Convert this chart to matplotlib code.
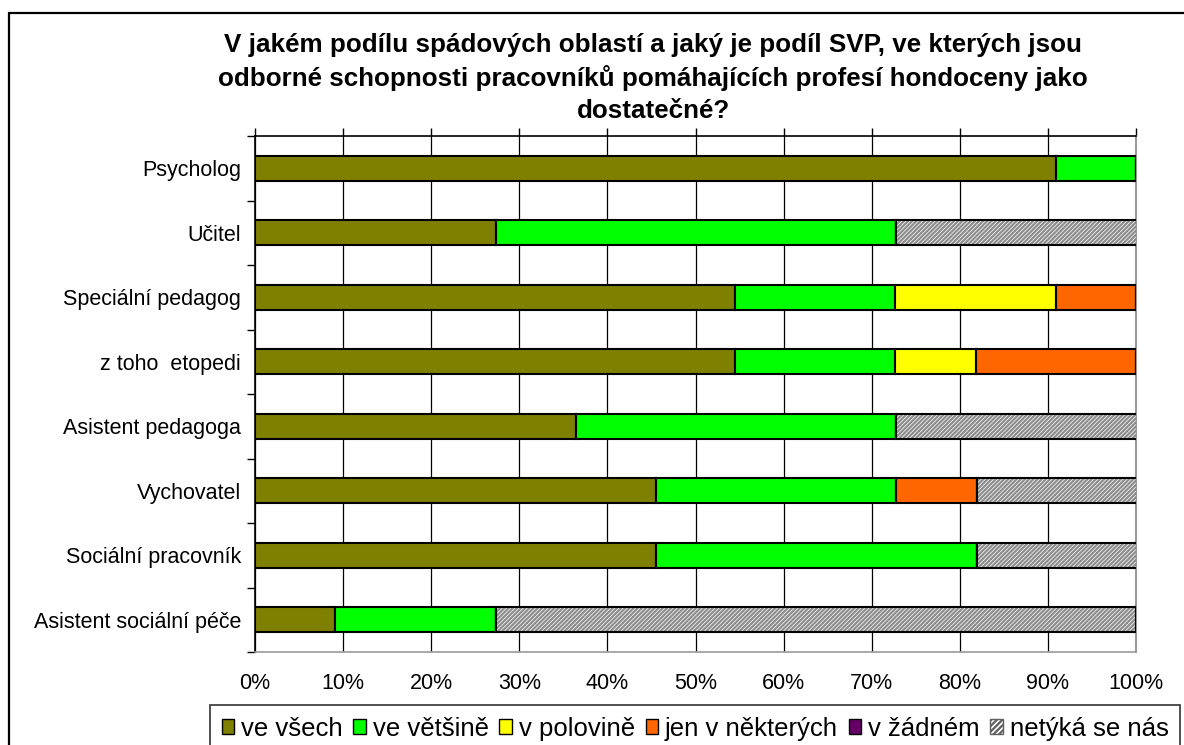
import matplotlib
matplotlib.use("Agg")
import matplotlib.pyplot as plt
import matplotlib.patches as mpatches
import numpy as np

plt.rcParams['font.family'] = ['Liberation Sans', 'DejaVu Sans']
plt.rcParams['hatch.linewidth'] = 1.6

categories = ["Psycholog", "Učitel", "Speciální pedagog", "z toho  etopedi",
              "Asistent pedagoga", "Vychovatel", "Sociální pracovník",
              "Asistent sociální péče"]
series_names = ["ve všech", "ve většině", "v polovině", "jen v některých",
                "v žádném", "netýká se nás"]
ve_vsech        = [90.9, 27.3, 54.5, 54.5, 36.4, 45.5, 45.5, 9.1]
ve_vetsine      = [9.1, 45.5, 18.2, 18.2, 36.4, 27.3, 36.4, 18.2]
v_polovine      = [0, 0, 18.2, 9.1, 0, 0, 0, 0]
jen_v_nekterych = [0, 0, 9.1, 18.2, 0, 9.1, 0, 0]
v_zadnem        = [0, 0, 0, 0, 0, 0, 0, 0]
netyka_se_nas   = [0, 27.3, 0, 0, 27.3, 18.2, 18.2, 72.7]
x_ticklabels = ["0%", "10%", "20%", "30%", "40%", "50%", "60%", "70%", "80%", "90%", "100%"]
title = ("V jakém podílu spádových oblastí a jaký je podíl SVP, ve kterých jsou\n"
         "odborné schopnosti pracovníků pomáhajících profesí hondoceny jako\n"
         "dostatečné?")

series = [ve_vsech, ve_vetsine, v_polovine, jen_v_nekterych, v_zadnem, netyka_se_nas]
colors = ["#808000", "#00FF00", "#FFFF00", "#FF6600", "#660066", "white"]

W, H = 1184, 745
fig = plt.figure(figsize=(W / 100, H / 100), dpi=100)
ax = fig.add_axes([255 / W, 1 - 652 / H, (1136 - 255) / W, (652 - 136) / H])

y = np.arange(len(categories))
left = np.zeros(len(categories))
bh = 0.39
handles = []
for vals, col, name in zip(series, colors, series_names):
    vals = np.array(vals, dtype=float)
    if name == "netýká se nás":
        ax.barh(y, vals, left=left, height=bh, color="white", edgecolor="#8c8c8c",
                hatch="////////", linewidth=0, zorder=3)
        ax.barh(y, vals, left=left, height=bh, fill=False, edgecolor="black",
                linewidth=1.5, zorder=4)
        h = mpatches.Patch(facecolor="white", edgecolor="#606060", hatch="//////",
                           linewidth=1.0)
    else:
        ax.barh(y, vals, left=left, height=bh, color=col, edgecolor="black",
                linewidth=1.5, zorder=3)
        h = mpatches.Patch(facecolor=col, edgecolor="black", linewidth=1.0)
    handles.append(h)
    left += vals

ax.set_xlim(0, 100)
ax.set_ylim(len(categories) - 0.5, -0.5)
ax.set_xticks(np.arange(0, 101, 10))
ax.set_xticklabels(x_ticklabels, fontsize=15.5)
ax.set_yticks(y)
ax.set_yticklabels(categories, fontsize=15.5)
ax.set_yticks(np.arange(-0.5, len(categories), 1), minor=True)
ax.tick_params(axis='y', which='major', length=0, pad=10)
ax.tick_params(axis='y', which='minor', length=6, width=1, direction='out', color='black')
ax.tick_params(axis='x', which='major', length=0, pad=15)
ax.xaxis.grid(True, color="black", linewidth=0.9, zorder=0)
ax.set_axisbelow(True)

ax.spines['top'].set_color('black')
ax.spines['top'].set_linewidth(1.2)
ax.spines['left'].set_color('black')
ax.spines['left'].set_linewidth(1.2)
ax.spines['right'].set_color('#999999')
ax.spines['right'].set_linewidth(1.5)
ax.spines['bottom'].set_color('#999999')
ax.spines['bottom'].set_linewidth(1.2)

sec = ax.secondary_xaxis('top')
sec.set_xticks(np.arange(0, 101, 10))
sec.set_xticklabels([])
sec.tick_params(length=6, width=1, direction='out', color='black')
sec.spines['top'].set_visible(False)

fig.text(653 / W, 1 - 33 / H, title, ha='center', va='top', fontsize=18.7,
         fontweight='bold', linespacing=1.4)

leg = fig.legend(handles, series_names, loc='upper left',
                 bbox_to_anchor=(210 / W, 1 - 705 / H), ncol=6, fontsize=18.5,
                 frameon=True, fancybox=False, edgecolor='black',
                 handlelength=0.5, handleheight=0.5, handletextpad=0.25,
                 columnspacing=0.42, borderpad=0.45, borderaxespad=0)
leg.get_frame().set_linewidth(1.2)

border = mpatches.Rectangle((9 / W, -0.05), 1.1, 1 - 13 / H + 0.05,
                            transform=fig.transFigure, fill=False,
                            edgecolor='black', linewidth=1.6, clip_on=False)
fig.patches.append(border)

fig.savefig("out.png", dpi=100)
